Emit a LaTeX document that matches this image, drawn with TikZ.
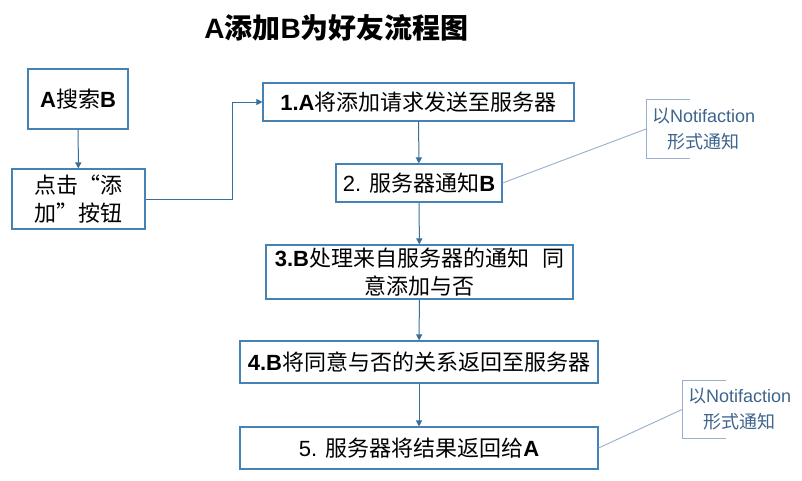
\documentclass[tikz,border=0pt]{standalone}
\usepackage{fontspec}
\setmainfont{Liberation Sans}
\newfontfamily\cjk{Noto Sans CJK SC}
\usetikzlibrary{arrows.meta, positioning, calc}
\definecolor{boxblue}{RGB}{70,130,180}
\definecolor{arrblue}{RGB}{55,110,155}
\definecolor{noteblue}{RGB}{60,100,140}
\definecolor{leadblue}{RGB}{150,175,205}
\newcommand{\zh}[1]{{\cjk #1}}
\tikzset{
  box/.style={draw=boxblue, line width=1.1pt, inner sep=0pt, align=center, font=\fontsize{22}{28}\selectfont},
  arr/.style={-{Triangle[length=6pt, width=6pt]}, arrblue, line width=1pt},
  note/.style={inner xsep=6pt, inner ysep=0pt, anchor=west, align=center, text=noteblue, minimum height=58pt, font=\fontsize{18}{26}\selectfont},
  lead/.style={leadblue, line width=0.9pt},
}

\begin{document}
\begin{tikzpicture}[x=1pt, y=-1pt]
  \useasboundingbox (0,0) rectangle (802,480);
  \node[font=\fontsize{28}{30}\selectfont\bfseries] (title) at (336.5,28) {A\zh{添加}B\zh{为好友流程图}};

  \node[box, minimum width=100pt, minimum height=60pt] (search) at (78,99) {{\bfseries A}\zh{搜索}{\bfseries B}};
  \node[box, minimum width=133pt, minimum height=60pt] (click) at (78.5,199) {\zh{点击“添}\\\zh{加”按钮}};

  \node[box, minimum width=311pt, minimum height=38pt] (s1) at (418.5,102) {{\bfseries 1.A}\zh{将添加请求发送至服务器}};
  \node[box, minimum width=166pt, minimum height=38pt] (s2) at (419,183) {2. \zh{服务器通知}{\bfseries B}};
  \node[box, minimum width=307pt, minimum height=54pt] (s3) at (419.5,272) {{\bfseries 3.B}\zh{处理来自服务器的通知\hspace{0.6em}同}\\\zh{意添加与否}};
  \node[box, minimum width=358pt, minimum height=42pt] (s4) at (419,362) {{\bfseries 4.B}\zh{将同意与否的关系返回至服务器}};
  \node[box, minimum width=358pt, minimum height=42pt] (s5) at (419,448) {5. \zh{服务器将结果返回给}{\bfseries A}};

  \node[note] (n1) at (646,129) {\zh{以}Notifaction\\\zh{形式通知}};
  \node[note] (n2) at (682,409.5) {\zh{以}Notifaction\\\zh{形式通知}};

  \draw[arr] (search) -- (click);
  \draw[arr] (click.east) -- ++(87,0) |- (s1.west);
  \draw[arr] (s1) -- (s2);
  \draw[arr] (s2) -- (s3);
  \draw[arr] (s3) -- (s4);
  \draw[arr] (s4) -- (s5);

  \draw[lead] ([xshift=44pt]n1.north west) -- (n1.north west) -- (n1.south west) -- ([xshift=44pt]n1.south west);
  \draw[lead] ([xshift=44pt]n2.north west) -- (n2.north west) -- (n2.south west) -- ([xshift=44pt]n2.south west);
  \draw[lead] (s2.east) -- (n1.west);
  \draw[lead] (s5.east) -- (n2.west);
\end{tikzpicture}
\end{document}
